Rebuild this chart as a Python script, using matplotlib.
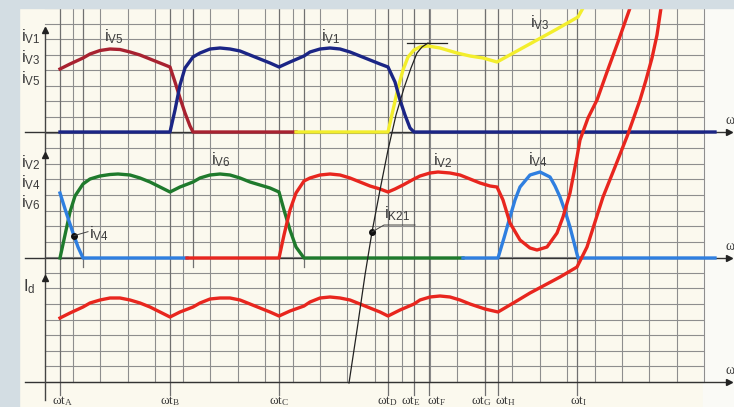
import numpy as np
import matplotlib
matplotlib.use("Agg")
import matplotlib.pyplot as plt
from matplotlib.patches import Rectangle

# --- curve data: x = wt position, values = height above each panel's baseline ---
# top panel
iv5_x = [60, 70, 83, 90, 100, 110, 120, 130, 140, 150, 160, 170, 175, 180, 185, 190, 193, 296]
iv5_h = [63, 68, 74, 78, 81.5, 83, 82.5, 80, 77, 73, 69, 65, 50, 34, 19, 6, 0, 0]

iv1_x = [60, 170, 175, 180, 185, 193, 200, 210, 220, 230, 240, 250, 260, 270, 279, 290, 304,
         310, 320, 330, 340, 350, 360, 370, 380, 388, 395, 400, 405, 410, 414, 715]
iv1_h = [0, 0, 22, 47, 64, 75, 79, 83, 84, 83, 81, 77, 73, 69, 65, 70, 76,
         80, 83, 84, 83, 80, 76, 72, 68, 65, 50, 32, 17, 4, 0, 0]

iv3_x = [296, 388, 393, 398, 403, 408, 414, 420, 428, 440, 457, 470, 483, 497,
         517, 537, 557, 578, 583, 586]
iv3_h = [0, 0, 22, 44, 62, 75, 82, 85, 86, 84, 79, 76, 74, 70,
         81, 92, 103, 115, 124, 130]

# middle panel
iv6_x = [60, 65, 70, 75, 83, 90, 100, 110, 118, 130, 140, 150, 160, 170, 180, 193, 200, 210,
         220, 230, 240, 250, 260, 270, 279, 284, 290, 296, 304, 463]
iv6_h = [0, 23, 46, 62, 74, 79, 82, 83.5, 84, 83, 80, 76, 71, 66, 71, 76, 80, 83,
         84, 83, 80, 76, 73, 70, 66, 48, 28, 11, 0, 0]

iv4a_x = [60, 66, 72, 78, 83, 187]
iv4a_h = [65, 46, 28, 11, 0, 0]
iv4b_x = [463, 498, 504, 510, 515, 520, 530, 540, 550, 555, 560, 565, 570, 578, 715]
iv4b_h = [0, 0, 20, 41, 58, 71, 83, 86, 81, 72, 61, 47, 31, 0, 0]

iv2_x = [187, 279, 284, 290, 296, 304, 310, 320, 330, 340, 350, 360, 370, 380, 388, 395, 403,
         414, 420, 430, 438, 450, 460, 470, 480, 490, 497, 503, 510, 520, 530, 537, 547, 557,
         563, 570, 577, 580, 588, 597, 607, 618, 630, 635]
iv2_h = [0, 0, 23, 48, 65, 77, 80, 83, 84, 83, 80, 76, 72, 69, 66, 69, 73,
         79, 82, 85, 86, 85, 83, 79, 75, 72, 71, 58, 35, 18, 10, 8, 11, 25,
         41, 65, 101, 118, 140, 158, 186, 216, 250, 263]

# bottom panel
id_x = [60, 70, 83, 90, 100, 110, 120, 130, 140, 150, 160, 170, 180, 193, 200, 210, 220, 230,
        240, 250, 260, 270, 279, 290, 304, 310, 320, 330, 340, 350, 360, 370, 380, 388, 400,
        414, 420, 430, 440, 450, 460, 470, 485, 498, 515, 530, 545, 560, 577, 580, 587, 595,
        603, 615, 628, 634, 640, 646, 652, 657, 661, 664]
id_h = [64, 69, 75, 79, 82, 84, 84, 82, 79, 75, 70, 65, 70, 75, 79, 83, 84, 84,
        82, 78, 74, 70, 66, 71, 76, 80, 84, 85, 84, 82, 78, 74, 70, 66, 72,
        78, 82, 85, 86, 85, 82, 78, 73, 70, 80, 89, 97, 105, 115, 121, 135, 160,
        185, 215, 248, 265, 282, 302, 324, 347, 374, 387]

ik21_x = [349, 357, 365, 372, 380, 388, 396, 404, 411, 417, 422, 428]
ik21_h = [-1, 52, 107, 150, 192, 232, 267, 294, 314, 329, 335, 339]

# time instants
events = [60, 170, 279, 388, 414, 429, 485, 498, 577]
event_names = ["A", "B", "C", "D", "E", "F", "G", "H", "I"]
event_label_x = [63, 170, 279, 387, 411, 437, 481, 505, 579]
overlap_ends = [83, 193, 304]

# --- layout ---
W, H = 734, 407
top_base, mid_base, bot_base = 275, 149, 25
paper_top = 399
grid_col = "#8e8e8e"
txt_col = "#3c3c3c"

fig = plt.figure(figsize=(7.34, 4.07), dpi=100)
fig.patch.set_facecolor("#d3dde3")
ax = fig.add_axes([0, 0, 1, 1])
ax.set_xlim(0, W)
ax.set_ylim(0, H)
ax.axis("off")

ax.add_patch(Rectangle((19, 0), 690, paper_top, color="#fbf9ee", zorder=0))
ax.add_patch(Rectangle((703, 0), 31, paper_top, color="#fafaf6", zorder=0))

# grid
for k in range(25):
    y = paper_top - k * 15.58
    ax.plot([45, 703], [y, y], color=grid_col, lw=0.8, zorder=1)
for k in range(1, 25):
    x = 45.5 + k * 27.45
    ax.plot([x, x], [bot_base, paper_top], color=grid_col, lw=0.8, zorder=1)
for x in events:
    ax.plot([x, x], [12, paper_top], color="#707070", lw=0.9, zorder=1)
for x in overlap_ends:
    ax.plot([x, x], [140, paper_top], color="#707070", lw=0.9, zorder=1)

# axes
for b in (top_base, mid_base, bot_base):
    ax.plot([25, 728], [b, b], color="#333333", lw=1.0, zorder=2)
    ax.plot(729, b, marker=">", ms=5, color="#222222", zorder=2)
ax.plot([45, 45], [7, 379], color="#444444", lw=1.0, zorder=2)
for y in (377, 252, 129):
    ax.plot(45, y, marker="^", ms=5, color="#222222", zorder=2)

# curves
lw = 2.4
ax.plot(iv5_x, np.add(iv5_h, top_base), color="#a82230", lw=lw, zorder=3)
ax.plot(iv3_x, np.add(iv3_h, top_base), color="#f3ee2c", lw=lw, zorder=3)
ax.plot(iv1_x, np.add(iv1_h, top_base), color="#1b2585", lw=lw, zorder=4)
ax.plot(iv6_x, np.add(iv6_h, mid_base), color="#1f7a2c", lw=lw, zorder=3)
ax.plot(iv4a_x, np.add(iv4a_h, mid_base), color="#2f7fe0", lw=lw, zorder=4)
ax.plot(iv4b_x, np.add(iv4b_h, mid_base), color="#2f7fe0", lw=lw, zorder=4)
ax.plot(iv2_x, np.add(iv2_h, mid_base), color="#e8261e", lw=lw, zorder=4)
ax.plot(id_x, np.add(id_h, bot_base), color="#e8261e", lw=lw, zorder=4)
ax.plot(ik21_x, np.add(ik21_h, bot_base), color="#222222", lw=0.9, zorder=5)
ax.plot([407, 447], [364, 364], color="#222222", lw=0.9, zorder=5)

# leader for iK21
kx = 372
ky = np.interp(kx, ik21_x, ik21_h) + bot_base
ax.plot(kx, ky, "o", ms=4, color="#111111", zorder=6)
ax.plot([kx, 384, 415], [ky, ky + 7, ky + 7], color="#444444", lw=0.7, zorder=6)
ax.text(384, ky + 9, r"$\mathregular{i_{K21}}$", fontsize=12, color=txt_col,
        family="Liberation Sans", ha="left", va="bottom", zorder=6)

# leader for iV4 (left)
vx = 74
vy = np.interp(vx, iv4a_x, iv4a_h) + mid_base
ax.plot(vx, vy, "o", ms=4, color="#111111", zorder=6)
ax.plot([vx, 88], [vy, vy + 4], color="#444444", lw=0.7, zorder=6)
ax.text(89, vy + 2, r"$\mathregular{i_{V4}}$", fontsize=12, color=txt_col,
        family="Liberation Sans", ha="left", va="center", zorder=6)

# labels
def lab(x, y, s, ha="left"):
    ax.text(x, y, s, fontsize=12, color=txt_col, family="Liberation Sans",
            ha=ha, va="center", zorder=6)

lab(21, 370, r"$\mathregular{i_{V1}}$")
lab(21, 349, r"$\mathregular{i_{V3}}$")
lab(21, 328, r"$\mathregular{i_{V5}}$")
lab(21, 244, r"$\mathregular{i_{V2}}$")
lab(21, 224, r"$\mathregular{i_{V4}}$")
lab(21, 204, r"$\mathregular{i_{V6}}$")
lab(23, 120, r"$\mathregular{I_d}$")
lab(114, 370, r"$\mathregular{i_{V5}}$", "center")
lab(331, 370, r"$\mathregular{i_{V1}}$", "center")
lab(540, 384, r"$\mathregular{i_{V3}}$", "center")
lab(221, 247, r"$\mathregular{i_{V6}}$", "center")
lab(443, 246, r"$\mathregular{i_{V2}}$", "center")
lab(538, 247, r"$\mathregular{i_{V4}}$", "center")

for x, n in zip(event_label_x, event_names):
    ax.text(x, 6, r"$\mathregular{\omega t_%s}$" % n, fontsize=9.5, color=txt_col,
            family="Liberation Serif", ha="center", va="center", zorder=6)
for b in (top_base, mid_base, bot_base):
    ax.text(726, b + 12, "ω", fontsize=10, color=txt_col, family="Liberation Serif",
            ha="left", va="center", zorder=6)

# frame bands
ax.add_patch(Rectangle((0, paper_top), W, H - paper_top, color="#d3dde3", zorder=10))
ax.add_patch(Rectangle((0, 0), 19, H, color="#d3dde3", zorder=10))

fig.savefig("out.png", dpi=100, facecolor=fig.get_facecolor())
